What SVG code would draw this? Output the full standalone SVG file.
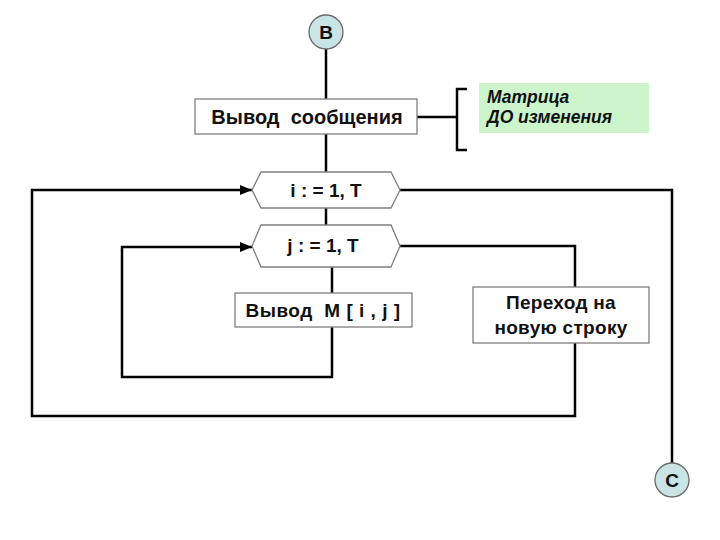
<svg xmlns="http://www.w3.org/2000/svg" width="720" height="540" viewBox="0 0 720 540">
<defs>
<style>
.box{fill:#fff;stroke:#7f7f7f;stroke-width:1.3}
.circ{fill:#c8e4e4;stroke:#6a6a6a;stroke-width:1.3}
.ln{fill:none;stroke:#000;stroke-width:2.5}
.t{font-family:"Liberation Sans",Arial,sans-serif;font-weight:bold;font-size:19px;fill:#111;text-anchor:middle;white-space:pre}
.g{font-family:"Liberation Sans",Arial,sans-serif;font-weight:bold;font-style:italic;font-size:17.5px;fill:#111}
</style>
<marker id="ar" viewBox="0 0 12 10" refX="12" refY="5" markerWidth="12" markerHeight="10" markerUnits="userSpaceOnUse" orient="auto">
<path d="M0,0 L12,5 L0,10 Z" fill="#000"/>
</marker>
</defs>
<g id="connectors">
<path class="ln" d="M326,49 V99"/>
<path class="ln" d="M326,134 V172"/>
<path class="ln" d="M326,208 V225"/>
<path class="ln" d="M332,267 V293"/>
<path class="ln" d="M417,117 H457"/>
<path class="ln" d="M467,89 H457 V150 H467"/>
<path class="ln" d="M332,327 V377 H122 V247 H252" marker-end="url(#ar)"/>
<path class="ln" d="M575,343 V416 H32 V190 H252" marker-end="url(#ar)"/>
<path class="ln" d="M400,246 H575 V287"/>
<path class="ln" d="M400,190 H672 V463"/>
</g>
<g id="nodeB">
<circle class="circ" cx="326" cy="32" r="17"/>
<text class="t" x="326" y="39">B</text>
</g>
<g id="msg">
<rect class="box" x="195" y="99" width="222" height="35"/>
<text class="t" x="307" y="124" style="font-size:20px" xml:space="preserve">Вывод  сообщения</text>
</g>
<g id="note">
<rect x="479" y="83" width="170" height="50" fill="#ccf5cc"/>
<text class="g" x="487" y="103">Матрица</text>
<text class="g" x="487" y="123">ДО изменения</text>
</g>
<g id="loopI">
<polygon class="box" points="252,190 261,172 391,172 400,190 391,208 261,208"/>
<text class="t" x="326" y="197">i : = 1, T</text>
</g>
<g id="loopJ">
<polygon class="box" points="252,246 261,225 391,225 400,246 391,267 261,267"/>
<text class="t" x="323" y="252">j : = 1, T</text>
</g>
<g id="outM">
<rect class="box" x="235" y="293" width="177" height="34"/>
<text class="t" x="323" y="317" letter-spacing="0.5" xml:space="preserve">Вывод  M [ i , j ]</text>
</g>
<g id="newline">
<rect class="box" x="473" y="287" width="176" height="56"/>
<text class="t" x="561" y="309" letter-spacing="0.3">Переход на</text>
<text class="t" x="561" y="334" letter-spacing="0.3">новую строку</text>
</g>
<g id="nodeC">
<circle class="circ" cx="672" cy="480" r="17"/>
<text class="t" x="672" y="487">C</text>
</g>
</svg>
